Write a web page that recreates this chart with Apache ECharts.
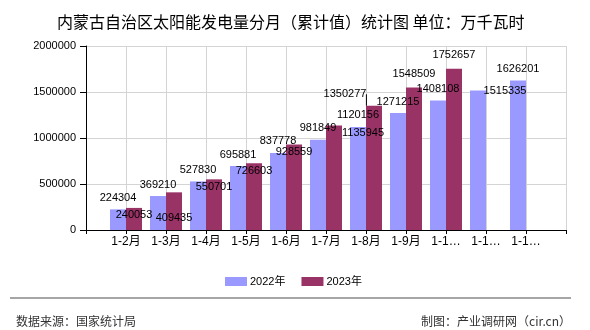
<!DOCTYPE html>
<html><head><meta charset="utf-8">
<script src="https://cdn.jsdelivr.net/npm/echarts@6/dist/echarts.min.js"></script>
<style>html,body{margin:0;padding:0;background:#fff}#c{width:590px;height:330px}</style>
</head><body><div id="c"></div>
<script>
const categories = ['1-2月','1-3月','1-4月','1-5月','1-6月','1-7月','1-8月','1-9月','1-10月','1-11月','1-12月'];
const values2022 = [224304, 369210, 527830, 695881, 837778, 981849, 1120156, 1271215, 1408108, 1515335, 1626201];
const values2023 = [240053, 409435, 550701, 726603, 928559, 1135945, 1350277, 1548509, 1752657, null, null];
const seriesNames = ['2022年', '2023年'];
const yTicks = [0, 500000, 1000000, 1500000, 2000000];

// label displacement (styling, kept apart from data)
const labelShift = [
  { '1-11月': [27, 12] },
  { '1-3月': [0, 18], '1-7月': [29, 0], '1-8月': [-29, -19], '1-9月': [0, -21], '1-10月': [0, -21] }
];
const guided = { '1-7月': true, '1-8月': true };

const axisCats = [''].concat(categories, ['']);
const pad = arr => [null].concat(arr, [null]);
const FONT = 'Liberation Sans, Noto Sans CJK SC, sans-serif';

function mkData(arr, si) {
  return pad(arr).map((v, i) => {
    const name = axisCats[i];
    if (si === 1 && guided[name]) {
      return { value: v, labelLine: { show: true, lineStyle: { color: '#000', width: 1 } } };
    }
    return v;
  });
}
function layoutFor(si) {
  return function (p) {
    const s = labelShift[si][axisCats[p.dataIndex]];
    return s ? { dx: s[0], dy: s[1] } : {};
  };
}

const chart = echarts.init(document.getElementById('c'), null, { renderer: 'canvas' });
chart.setOption({
  backgroundColor: '#fff',
  animation: false,
  textStyle: { fontFamily: FONT },
  title: [
    { text: '内蒙古自治区太阳能发电量分月（累计值）统计图 单位：万千瓦时', left: 52, top: 9,
      textStyle: { fontSize: 16, fontWeight: 'normal', color: '#000', fontFamily: 'Noto Sans CJK SC' } },
    { text: '数据来源：国家统计局', left: 11, top: 310,
      textStyle: { fontSize: 12, fontWeight: 'normal', color: '#333', fontFamily: 'Noto Sans CJK SC' } },
    { text: '制图：产业调研网（cir.cn）', right: 14, top: 310,
      textStyle: { fontSize: 12, fontWeight: 'normal', color: '#333', fontFamily: 'Noto Sans CJK SC' } }
  ],
  graphic: [
    { type: 'line', shape: { x1: 10, y1: 298, x2: 571, y2: 298 }, style: { stroke: '#888', lineWidth: 1.5 } }
  ],
  legend: {
    data: seriesNames, left: 220, top: 271, itemWidth: 22, itemHeight: 9, itemGap: 16, icon: 'rect',
    textStyle: { fontSize: 11, color: '#000', padding: [0, 0, 0, -2] }
  },
  grid: { left: 86, right: 24, top: 46, bottom: 100, containLabel: false },
  xAxis: {
    type: 'category', data: axisCats, boundaryGap: false,
    axisLine: { lineStyle: { color: '#000', width: 1 } },
    axisTick: { show: true, length: 4, lineStyle: { color: '#000' } },
    axisLabel: { interval: 0, fontSize: 12, color: '#000', margin: 6, width: 34, overflow: 'truncate', ellipsis: '…' },
    splitLine: { show: true, lineStyle: { color: '#d4d4d4' } }
  },
  yAxis: {
    type: 'value', min: yTicks[0], max: yTicks[yTicks.length - 1], interval: yTicks[1] - yTicks[0],
    axisLine: { show: true, lineStyle: { color: '#000' } },
    axisTick: { show: true, length: 6, lineStyle: { color: '#000' } },
    axisLabel: { fontSize: 11, color: '#000', margin: 10, formatter: v => String(v) },
    splitLine: { show: true, lineStyle: { color: '#d4d4d4' } }
  },
  series: [
    { name: seriesNames[0], type: 'bar', data: mkData(values2022, 0), barWidth: 16, barGap: '0%',
      itemStyle: { color: '#9999ff' },
      label: { show: true, position: 'top', distance: 6, fontSize: 11, color: '#000' },
      labelLayout: layoutFor(0) },
    { name: seriesNames[1], type: 'bar', data: mkData(values2023, 1), barWidth: 16, barGap: '0%',
      itemStyle: { color: '#993366' },
      label: { show: true, position: 'insideTop', distance: 2, fontSize: 11, color: '#000' },
      labelLine: { show: false, lineStyle: { color: '#000', width: 1 } },
      labelLayout: layoutFor(1) }
  ]
});
</script></body></html>
